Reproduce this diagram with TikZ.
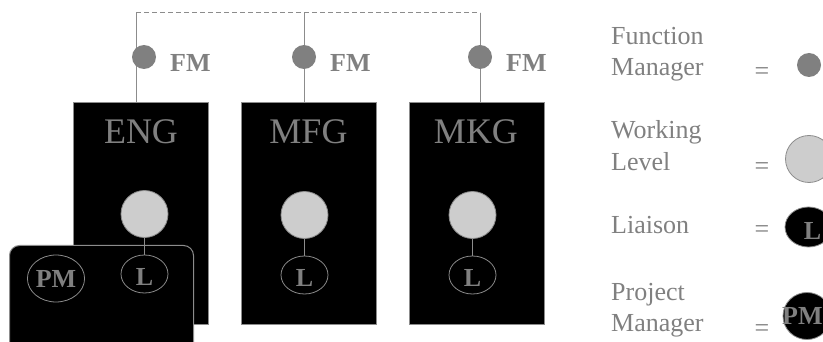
\documentclass[tikz,border=0pt]{standalone}
\usepackage{fontspec}
\setmainfont{Liberation Serif}
\usetikzlibrary{shapes.geometric}
\definecolor{txtgray}{RGB}{128,128,128}
\definecolor{linegray}{RGB}{140,140,140}
\definecolor{fmgray}{RGB}{128,128,128}
\definecolor{wlgray}{RGB}{205,205,205}
\begin{document}
\begin{tikzpicture}[x=1pt,y=-1pt,
  dept/.style={draw=linegray, line width=1pt, fill=black, minimum width=135pt, minimum height=222pt, inner sep=0pt, anchor=north west},
  deptlabel/.style={text=txtgray, font=\fontsize{36}{40}\selectfont, anchor=base, inner sep=0pt},
  fmdot/.style={circle, fill=fmgray, minimum size=24pt, inner sep=0pt},
  fmlabel/.style={text=txtgray, font=\bfseries\fontsize{26}{30}\selectfont, anchor=base west, inner sep=0pt},
  wldot/.style={circle, fill=wlgray, draw=linegray, line width=0.8pt, minimum size=47pt, inner sep=0pt},
  liaison/.style={ellipse, fill=black, draw=linegray, line width=0.8pt, minimum width=47pt, minimum height=38pt, inner sep=0pt, text=txtgray, font=\bfseries\fontsize{26}{30}\selectfont, text height=23pt, text depth=0pt},
  pmnode/.style={ellipse, fill=black, draw=linegray, line width=0.8pt, minimum width=48pt, minimum height=47pt, inner sep=0pt, text=txtgray, font=\bfseries\fontsize{26}{30}\selectfont},
  pmbox/.style={draw=linegray, line width=1pt, fill=black, rounded corners=10pt, minimum width=184pt, minimum height=110pt, inner sep=0pt, anchor=north west},
  conn/.style={draw=linegray, line width=1pt},
  dashconn/.style={draw=linegray, line width=1pt, dash pattern=on 5pt off 3pt},
  legtext/.style={text=txtgray, font=\fontsize{26}{30}\selectfont, anchor=base west, inner sep=0pt},
  legeq/.style={text=txtgray, font=\fontsize{26}{30}\selectfont, anchor=base, inner sep=0pt},
  legsym/.style={text=txtgray, font=\bfseries\fontsize{26}{30}\selectfont, inner sep=0pt}
]
\useasboundingbox (0,0) rectangle (823,342);
\clip (0,0) rectangle (823,342);

% department boxes
\node[dept] (eng) at (73,102) {};
\node[dept] (mfg) at (241,102) {};
\node[dept] (mkg) at (409,102) {};
\node[deptlabel] (engl) at (141,144) {ENG};
\node[deptlabel] (mfgl) at (308.5,144) {MFG};
\node[deptlabel] (mkgl) at (476,144) {MKG};

% top connectors
\coordinate (t1) at (136,13);
\coordinate (t2) at (304,13);
\coordinate (t3) at (480,13);
\draw[dashconn] (t1) -- (t3);
\draw[conn] (t1) -- (t1 |- eng.north);
\draw[conn] (t2) -- (t2 |- mfg.north);
\draw[conn] (t3) -- (t3 |- mkg.north);

% function managers
\node[fmdot] (fm1) at (144,57) {};
\node[fmdot] (fm2) at (304,57) {};
\node[fmdot] (fm3) at (480,57) {};
\node[fmlabel] (fml1) at (170,72) {FM};
\node[fmlabel] (fml2) at (330,72) {FM};
\node[fmlabel] (fml3) at (506,72) {FM};

% project manager box
\node[pmbox] (pmb) at (9,245) {};

% working level and liaisons
\node[wldot] (wl1) at (144.5,214) {};
\node[wldot] (wl2) at (304.5,215) {};
\node[wldot] (wl3) at (472.5,215) {};
\node[liaison] (l1) at (144.5,274) {L};
\node[liaison] (l2) at (304.5,275) {L};
\node[liaison] (l3) at (472.5,275) {L};
\draw[conn] (wl1) -- (l1);
\draw[conn] (wl2) -- (l2);
\draw[conn] (wl3) -- (l3);
\node[pmnode] (pm) at (56,278.5) {PM};

% legend
\node[legtext] (lga1) at (611,45) {Function};
\node[legtext] (lga2) at (611,76) {Manager};
\node[legeq] (eqa) at (762,80) {=};
\node[fmdot] (lfm) at (809,65) {};

\node[legtext] (lgb1) at (611,139) {Working};
\node[legtext] (lgb2) at (611,171) {Level};
\node[legeq] (eqb) at (762,175) {=};
\node[wldot] (lwl) at (809,159) {};

\node[legtext] (lgc1) at (611,234) {Liaison};
\node[legeq] (eqc) at (762,238) {=};
\node[liaison, minimum height=40pt] (ll) at (808.5,227) {};
\node[legsym, anchor=base] (lltext) at (812.5,240) {L};

\node[legtext] (lgd1) at (611,300) {Project};
\node[legtext] (lgd2) at (611,331) {Manager};
\node[legeq] (eqd) at (762,336) {=};
\node[pmnode] (lpm) at (807,316) {};
\node[legsym, anchor=base west] (lpmtext) at (782,324) {PM};
\end{tikzpicture}
\end{document}
